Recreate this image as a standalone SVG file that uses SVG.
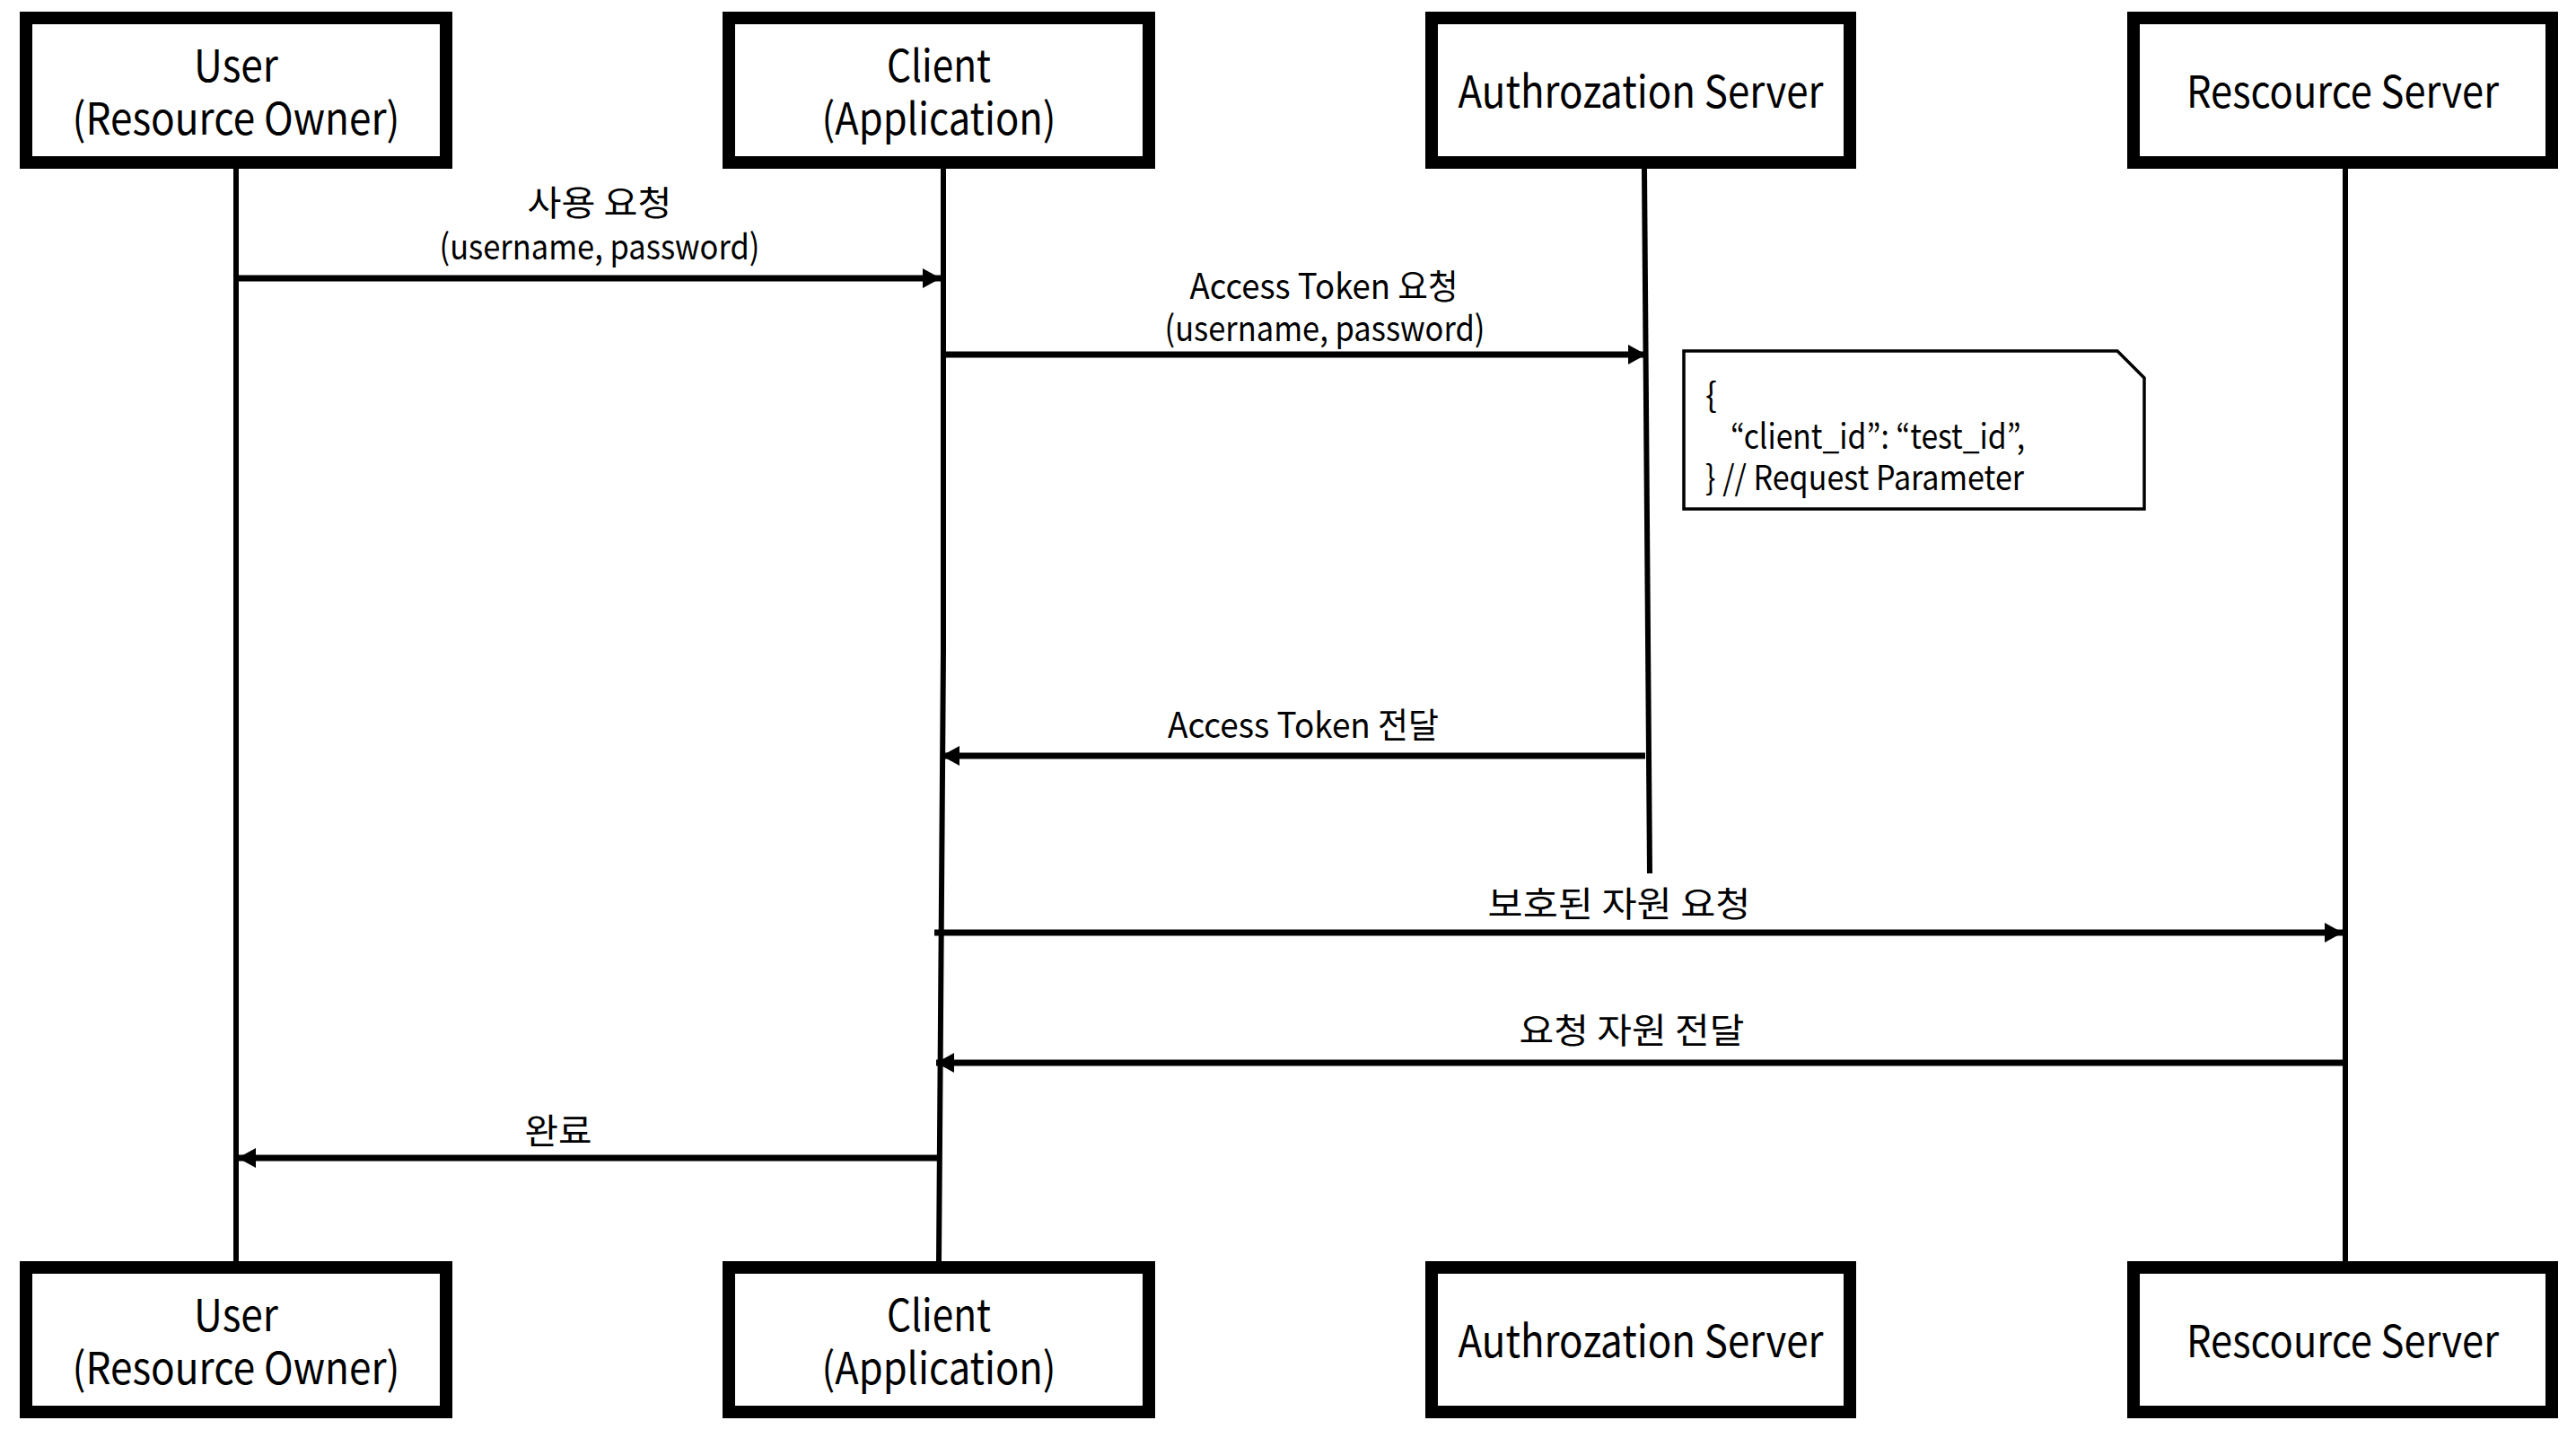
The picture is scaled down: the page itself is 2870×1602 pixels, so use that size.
<svg xmlns="http://www.w3.org/2000/svg" width="2870" height="1602" viewBox="0 0 2870 1602">
<style>
.box{fill:#fff;stroke:#000;stroke-width:14}
.life{fill:none;stroke:#000;stroke-width:6}
.msg{fill:none;stroke:#000;stroke-width:7}
.t{font-family:"Noto Sans CJK KR","Noto Sans",sans-serif;fill:#000}
.bt{font-size:49px;text-anchor:middle}
.lt{font-size:39px;text-anchor:middle}
.nt{font-size:38px}
.note{fill:#fff;stroke:#000;stroke-width:3.5}
</style>
<defs>
<marker id="ah" markerUnits="userSpaceOnUse" markerWidth="22" markerHeight="22" refX="20" refY="11" orient="auto">
<path d="M0,0 L20,11 L0,22 z" fill="#000"/>
</marker>
</defs>
<rect width="2870" height="1602" fill="#fff"/>
<g id="lifelines">
<line class="life" x1="263" y1="188" x2="263" y2="1405"/>
<path class="life" d="M1051 188 L1051 725 L1046 1405"/>
<line class="life" x1="1832" y1="188" x2="1838" y2="973"/>
<line class="life" x1="2613" y1="188" x2="2613" y2="1405"/>
</g>
<g id="user-top"><rect class="box" x="29" y="20" width="468" height="161"/><text class="t bt"><tspan x="263" y="91" textLength="94" lengthAdjust="spacingAndGlyphs">User</tspan><tspan x="263" y="150" textLength="365" lengthAdjust="spacingAndGlyphs">(Resource Owner)</tspan></text></g>
<g id="client-top"><rect class="box" x="812" y="20" width="468" height="161"/><text class="t bt"><tspan x="1046" y="91" textLength="116" lengthAdjust="spacingAndGlyphs">Client</tspan><tspan x="1046" y="150" textLength="261" lengthAdjust="spacingAndGlyphs">(Application)</tspan></text></g>
<g id="auth-top"><rect class="box" x="1595" y="20" width="466" height="161"/><text class="t bt" x="1828" y="120" textLength="407" lengthAdjust="spacingAndGlyphs">Authrozation Server</text></g>
<g id="resource-top"><rect class="box" x="2377" y="20" width="466" height="161"/><text class="t bt" x="2610" y="120" textLength="348" lengthAdjust="spacingAndGlyphs">Rescource Server</text></g>
<g id="user-bottom"><rect class="box" x="29" y="1412" width="468" height="161"/><text class="t bt"><tspan x="263" y="1483" textLength="94" lengthAdjust="spacingAndGlyphs">User</tspan><tspan x="263" y="1542" textLength="365" lengthAdjust="spacingAndGlyphs">(Resource Owner)</tspan></text></g>
<g id="client-bottom"><rect class="box" x="812" y="1412" width="468" height="161"/><text class="t bt"><tspan x="1046" y="1483" textLength="116" lengthAdjust="spacingAndGlyphs">Client</tspan><tspan x="1046" y="1542" textLength="261" lengthAdjust="spacingAndGlyphs">(Application)</tspan></text></g>
<g id="auth-bottom"><rect class="box" x="1595" y="1412" width="466" height="161"/><text class="t bt" x="1828" y="1512" textLength="407" lengthAdjust="spacingAndGlyphs">Authrozation Server</text></g>
<g id="resource-bottom"><rect class="box" x="2377" y="1412" width="466" height="161"/><text class="t bt" x="2610" y="1512" textLength="348" lengthAdjust="spacingAndGlyphs">Rescource Server</text></g>
<g id="note">
<path class="note" d="M1876 391 L2359 391 L2389 421 L2389 567 L1876 567 Z"/>
<text class="t nt"><tspan x="1900" y="454">{</tspan><tspan x="1928" y="500" textLength="328" lengthAdjust="spacingAndGlyphs">“client_id”: “test_id”,</tspan><tspan x="1900" y="546" textLength="355" lengthAdjust="spacingAndGlyphs">} // Request Parameter</tspan></text>
</g>
<g id="connectors">
<line class="msg" x1="263" y1="310" x2="1048" y2="310" marker-end="url(#ah)"/>
<line class="msg" x1="1051" y1="395" x2="1834" y2="395" marker-end="url(#ah)"/>
<line class="msg" x1="1833" y1="842" x2="1049" y2="842" marker-end="url(#ah)"/>
<line class="msg" x1="1041" y1="1039" x2="2610" y2="1039" marker-end="url(#ah)"/>
<line class="msg" x1="2613" y1="1184" x2="1043" y2="1184" marker-end="url(#ah)"/>
<line class="msg" x1="1046" y1="1290" x2="265" y2="1290" marker-end="url(#ah)"/>
</g>
<g id="labels">
<text class="t lt"><tspan x="668" y="240" textLength="161" lengthAdjust="spacingAndGlyphs">사용 요청</tspan><tspan x="668" y="289" textLength="357" lengthAdjust="spacingAndGlyphs">(username, password)</tspan></text>
<text class="t lt"><tspan x="1475" y="333" textLength="299" lengthAdjust="spacingAndGlyphs">Access Token 요청</tspan><tspan x="1476" y="380" textLength="357" lengthAdjust="spacingAndGlyphs">(username, password)</tspan></text>
<text class="t lt" x="1452" y="822" textLength="302" lengthAdjust="spacingAndGlyphs">Access Token 전달</text>
<text class="t lt" x="1804" y="1021" textLength="293" lengthAdjust="spacingAndGlyphs">보호된 자원 요청</text>
<text class="t lt" x="1818" y="1162" textLength="251" lengthAdjust="spacingAndGlyphs">요청 자원 전달</text>
<text class="t lt" x="622" y="1274" textLength="75" lengthAdjust="spacingAndGlyphs">완료</text>
</g>
</svg>
